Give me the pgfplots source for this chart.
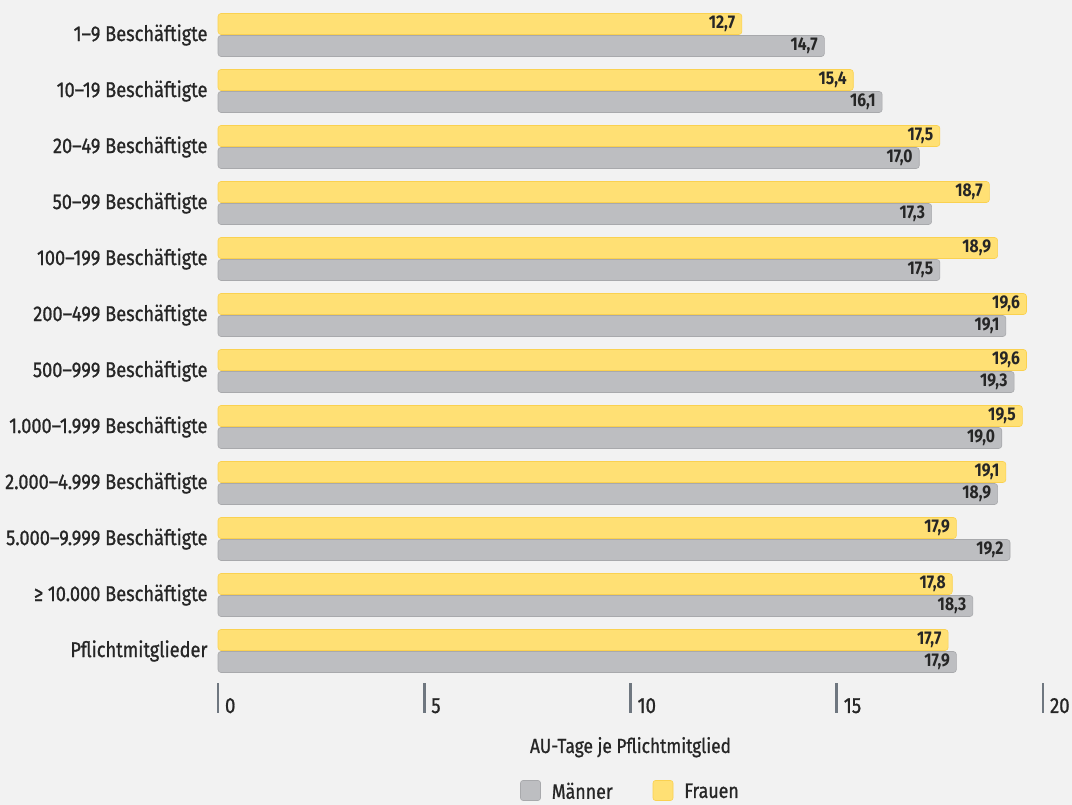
\documentclass[border=0pt]{standalone}
\usepackage{fontspec}
\setmainfont{Fira Sans}[FakeStretch=0.85]
\newfontfamily\med{Fira Sans}[FakeStretch=0.85, FakeBold=0.9]
\usepackage{pgfplots}
\pgfplotsset{compat=1.18}
\definecolor{bg}{HTML}{F2F2F2}
\definecolor{gelb}{HTML}{FFE074}
\definecolor{gelbr}{HTML}{FAD150}
\definecolor{grau}{HTML}{BDBEC1}
\definecolor{graur}{HTML}{A8A9AC}
\definecolor{txt}{HTML}{262626}
\definecolor{tickc}{HTML}{6F7780}
\begin{document}
\begin{tikzpicture}[x=1bp,y=1bp]
\fill[bg] (0,0) rectangle (1072,805);
\begin{axis}[
  at={(218bp,92bp)}, anchor=south west,
  x=41.25bp, y=56bp,
  xmin=0, xmax=20, ymin=-1.107, ymax=11.5,
  axis lines*=left,
  axis line style={draw=none},
  clip=false,
  xbar, bar width=21bp,
  point meta=x,
  xtick={0,5,10,15,20},
  tick align=inside,
  major tick length=30bp,
  xtick style={draw=tickc, line width=2.6bp},
  ytick style={draw=none},
  xticklabel style={anchor=base west, xshift=3.5bp, font=\med\fontsize{22}{22}\selectfont, text=txt},
  /pgf/number format/assume math mode=true,
  ytick={0,...,11},
  yticklabels={Pflichtmitglieder,
    {≥ 10.000 Beschäftigte},
    {5.000–9.999 Beschäftigte},
    {2.000–4.999 Beschäftigte},
    {1.000–1.999 Beschäftigte},
    {500–999 Beschäftigte},
    {200–499 Beschäftigte},
    {100–199 Beschäftigte},
    {50–99 Beschäftigte},
    {20–49 Beschäftigte},
    {10–19 Beschäftigte},
    {1–9 Beschäftigte}},
  yticklabel style={font=\med\fontsize{21.5}{21.5}\selectfont, text=txt, xshift=-7bp},
  xlabel={AU-Tage je Pflichtmitglied},
  xlabel style={at={(axis description cs:0.5,0)}, anchor=base, yshift=-40bp, font=\med\fontsize{20.5}{20.5}\selectfont, text=txt},
  nodes near coords={\pgfmathprintnumber[fixed,fixed zerofill,precision=1,use comma,assume math mode=true]{\pgfplotspointmeta}},
  every node near coord/.append style={anchor=east, xshift=-3bp, font=\bfseries\fontsize{18.5}{18.5}\selectfont, text=txt},
  legend style={at={(axis description cs:0.5,0)}, anchor=north, yshift=-65bp, draw=none, fill=none,
    legend columns=2, font=\med\fontsize{21}{21}\selectfont, text=txt,
    /tikz/every odd column/.append style={column sep=9bp},
    /tikz/every even column/.append style={column sep=38bp}},
  legend image code/.code={\fill[#1, rounded corners=2.5bp] (0bp,-9bp) rectangle (20bp,11bp);},
]
\addplot+[bar shift=-11bp, fill=grau, draw=graur, line width=0.6bp, rounded corners=3bp] coordinates {
  (14.7,11) (16.1,10) (17.0,9) (17.3,8) (17.5,7) (19.1,6)
  (19.3,5) (19.0,4) (18.9,3) (19.2,2) (18.3,1) (17.9,0)};
\addplot+[bar shift=11bp, fill=gelb, draw=gelbr, line width=0.6bp, rounded corners=3bp] coordinates {
  (12.7,11) (15.4,10) (17.5,9) (18.7,8) (18.9,7) (19.6,6)
  (19.6,5) (19.5,4) (19.1,3) (17.9,2) (17.8,1) (17.7,0)};
\legend{Männer, Frauen}
\end{axis}
\pgfresetboundingbox
\useasboundingbox (0,0) rectangle (1072,805);
\end{tikzpicture}
\end{document}
